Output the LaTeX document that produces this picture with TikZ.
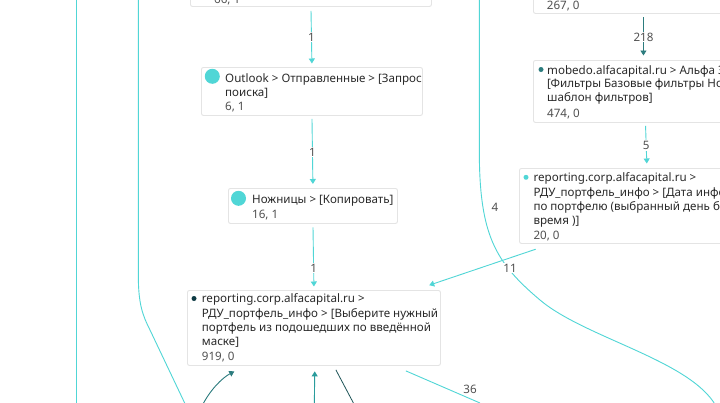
\documentclass[tikz,border=0pt]{standalone}
\usepackage{fontspec}
\setmainfont{Noto Sans}
\usetikzlibrary{arrows.meta}
\definecolor{cyanl}{HTML}{50D6D6}
\definecolor{tealm}{HTML}{2A9C9C}
\definecolor{teald}{HTML}{2C7C7E}
\definecolor{tealdk}{HTML}{1F5559}
\definecolor{dotdk}{HTML}{0E3B44}
\definecolor{boxgray}{HTML}{E4E4E4}
\definecolor{txtc}{HTML}{2A2A2A}
\definecolor{cntc}{HTML}{505050}
\newcommand{\mainf}{\fontsize{11.6}{13}\selectfont}
\tikzset{
  box/.style={draw=boxgray, fill=white, rounded corners=2pt, line width=0.9pt, inner sep=0, anchor=north west},
  txt/.style={anchor=base west, inner sep=0, text=txtc, font=\mainf},
  cnt/.style={anchor=base west, inner sep=0, text=cntc, font=\mainf},
  elab/.style={fill=white, inner sep=1pt, text=cntc, font=\mainf},
  plab/.style={inner sep=0, text=cntc, font=\mainf},
  lite/.style={draw=cyanl, line width=0.9pt},
  arr/.style={-{Triangle[width=6pt,length=5pt]}},
  bigdot/.style={circle, fill=cyanl, inner sep=0, minimum size=15pt},
  smalldot/.style={circle, inner sep=0, minimum size=5pt},
}
\begin{document}
\begin{tikzpicture}[x=1pt,y=-1pt]
\useasboundingbox (0,0) rectangle (720,402);
\clip (0,0) rectangle (720,402);
\fill[white] (0,0) rectangle (720,402);

% background curves (left side)
\coordinate (l1a) at (76.7,-5);
\coordinate (l1b) at (76.7,410);
\draw[lite] (l1a) -- (l1b);
\coordinate (l2a) at (138.3,-5);
\coordinate (l2b) at (188,410);
\draw[lite] (l2a) -- (138.3,275) .. controls (138.3,305) and (143,316) .. (150,330) -- (l2b);

% long curve labelled 4
\coordinate (c4a) at (479.3,-5);
\coordinate (c4b) at (716,406);
\draw[lite] (c4a) -- (479.3,150) .. controls (479.3,235) and (495,262) .. (540,300)
  .. controls (585,338) and (690,360) .. (c4b);
\node[plab] (lab4) at (495,207) {4};

% boxes
\node[box, minimum width=241pt, minimum height=20pt] (n0) at (190,-14) {};
\node[cnt] (n0c) at (214,3.5) {66, 1};

\node[box, minimum width=221pt, minimum height=48pt] (n1) at (201,67) {};
\node[bigdot] (n1d) at (212.3,76.3) {};
\node[txt] (n1t1) at (225,82) {Outlook > Отправленные > [Запрос};
\node[txt] (n1t2) at (225,96) {поиска]};
\node[cnt] (n1c) at (225,110.5) {6, 1};

\node[box, minimum width=169pt, minimum height=35pt] (n2) at (228,188) {};
\node[bigdot] (n2d) at (238.5,198.3) {};
\node[txt] (n2t1) at (252,203) {Ножницы > [Копировать]};
\node[cnt] (n2c) at (252,218) {16, 1};

\node[box, minimum width=253pt, minimum height=75pt] (n3) at (187,290) {};
\node[smalldot, fill=dotdk] (n3d) at (194,298.5) {};
\node[txt] (n3t1) at (201.7,302.7) {reporting.corp.alfacapital.ru >};
\node[txt] (n3t2) at (201.7,317) {РДУ\_портфель\_инфо > [Выберите нужный};
\node[txt] (n3t3) at (201.7,331.3) {портфель из подошедших по введённой};
\node[txt] (n3t4) at (201.7,345.6) {маске]};
\node[cnt] (n3c) at (201.7,360.3) {919, 0};

\node[box, minimum width=220pt, minimum height=27pt] (r0) at (533,-14) {};
\node[cnt] (r0c) at (546.7,9) {267, 0};

\node[box, minimum width=220pt, minimum height=62pt] (r1) at (533,60) {};
\node[smalldot, fill=teald] (r1d) at (541,69.5) {};
\node[txt] (r1t1) at (547,74) {mobedo.alfacapital.ru > Альфа Зеркало >};
\node[txt] (r1t2) at (547,87.8) {[Фильтры Базовые фильтры Новый};
\node[txt] (r1t3) at (547,101.5) {шаблон фильтров]};
\node[cnt] (r1c) at (547,117) {474, 0};

\node[box, minimum width=255pt, minimum height=75pt] (r2) at (519,168) {};
\node[smalldot, fill=cyanl] (r2d) at (526,177.3) {};
\node[txt] (r2t1) at (533.3,181.7) {reporting.corp.alfacapital.ru >};
\node[txt] (r2t2) at (533.3,196) {РДУ\_портфель\_инфо > [Дата информации};
\node[txt] (r2t3) at (533.3,210.2) {по портфелю (выбранный день без};
\node[txt] (r2t4) at (533.3,224.5) {время )]};
\node[cnt] (r2c) at (533.3,239) {20, 0};

% connectors
\draw[lite, arr, shorten <=4pt, shorten >=3.5pt] (n0.south) -- node[elab] (e1) {1} (n1.north);
\draw[lite, arr, shorten <=3pt, shorten >=4pt] (n1.south) -- node[elab] (e2) {1} (n2.north);
\draw[lite, arr, shorten <=3.5pt, shorten >=3.5pt] (n2.south) -- node[elab, pos=0.67] (e3) {1} (n3.north);
\draw[draw=teald, line width=0.9pt, arr, shorten <=3.5pt, shorten >=4.5pt] (r0.south) -- node[elab] (e4) {218} (r1.north);
\draw[lite, arr, shorten <=3pt, shorten >=4.5pt] ([xshift=2pt]r1.south) -- node[elab] (e5) {5} (r2.north);
\coordinate (a11s) at ([shift={(16.7,5.3)}]r2.south west);
\coordinate (a11t) at ([shift={(-11.7,-4.8)}]n3.north east);
\draw[lite, arr] (a11s) -- (a11t);
\node[elab] (e6) at (510,268) {11};

% bottom connectors
\coordinate (b1s) at (202,406);
\draw[draw=teald, line width=0.9pt, arr] (b1s) .. controls (210,390) and (222,378) .. ([shift={(47.3,5.5)}]n3.south west);
\coordinate (b2s) at (314.3,406);
\draw[draw=tealm, line width=0.9pt, arr] (b2s) -- ([shift={(0.8,5.5)}]n3.south);
\coordinate (b3s) at ([shift={(-105,4)}]n3.south east);
\coordinate (b3t) at (355,406);
\draw[draw=tealdk, line width=0.8pt] (b3s) -- (b3t);
\coordinate (b4s) at ([shift={(-35,5)}]n3.south east);
\coordinate (b4t) at (480,403);
\draw[lite] (b4s) -- (b4t);
\node[plab] (lab36) at (470,389) {36};
\end{tikzpicture}
\end{document}
